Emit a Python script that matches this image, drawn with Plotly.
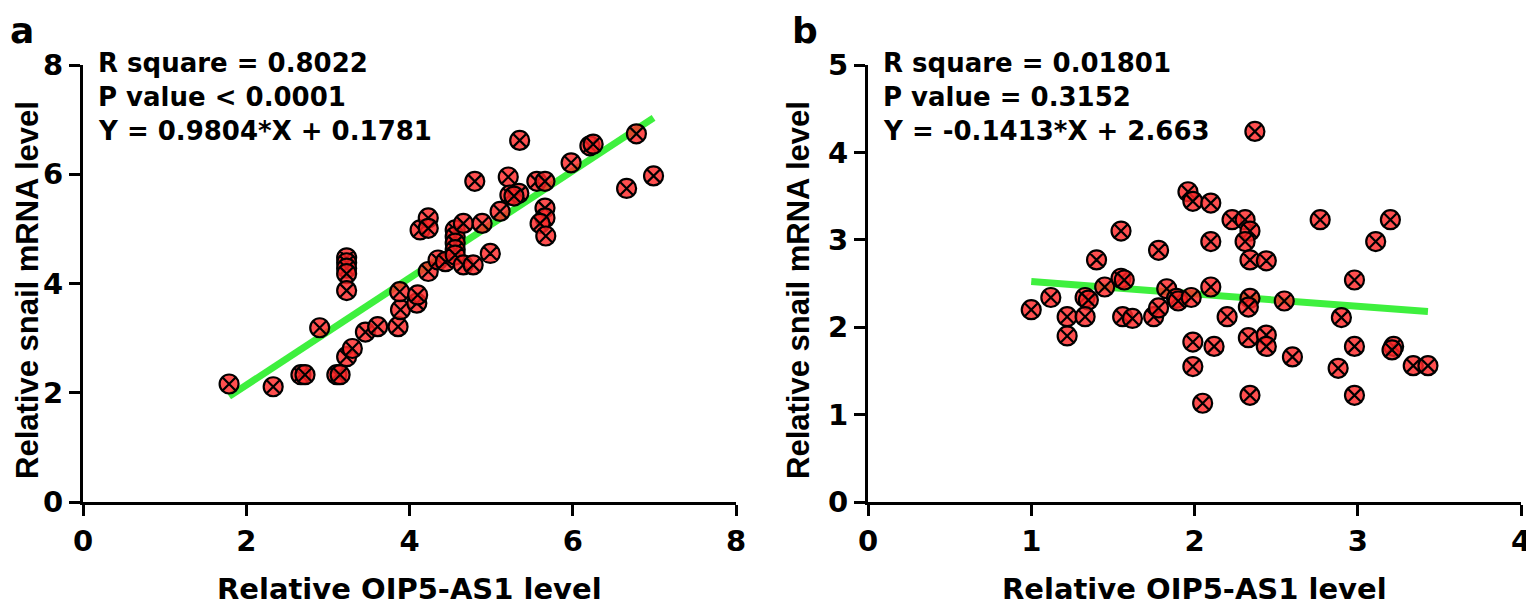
import plotly.graph_objects as go

# Panel a data
a_x = [1.79, 2.33, 2.67, 2.72, 3.11, 3.15, 2.90, 3.23, 3.30, 3.46, 3.61, 3.86, 3.89,
       4.09, 3.23, 3.23, 3.23, 3.23, 3.23, 3.88, 4.10, 4.23, 4.35, 4.44, 4.13, 4.23,
       4.23, 4.56, 4.56, 4.56, 4.56, 4.56, 4.66, 4.66, 4.78, 4.89, 4.99, 5.11, 4.80,
       5.35, 5.21, 5.23, 5.34, 5.28, 5.56, 5.66, 5.66, 5.66, 5.60, 5.67, 5.98, 6.21,
       6.25, 6.78, 6.66, 6.99]
a_y = [2.16, 2.11, 2.33, 2.33, 2.33, 2.33, 3.19, 2.66, 2.81, 3.11, 3.21, 3.21, 3.52,
       3.64, 4.47, 4.38, 4.28, 4.18, 3.87, 3.85, 3.79, 4.22, 4.43, 4.40, 4.98, 5.20,
       5.01, 4.98, 4.86, 4.74, 4.62, 4.52, 5.10, 4.34, 4.34, 5.10, 4.55, 5.32, 5.87,
       6.62, 5.95, 5.62, 5.65, 5.60, 5.87, 5.87, 5.38, 5.20, 5.10, 4.87, 6.21, 6.52,
       6.55, 6.74, 5.74, 5.97]
a_slope, a_icpt = 0.9804, 0.1781
a_text = ["R square = 0.8022", "P value < 0.0001", "Y = 0.9804*X + 0.1781"]

# Panel b data
b_x = [1.00, 1.12, 1.22, 1.22, 1.33, 1.35, 1.33, 1.40, 1.45, 1.55, 1.55, 1.57, 1.56,
       1.62, 1.78, 1.75, 1.78, 1.83, 1.89, 1.90, 1.98, 1.96, 1.99, 2.10, 2.10, 2.10,
       1.99, 2.12, 1.99, 2.05, 2.20, 2.23, 2.31, 2.34, 2.31, 2.34, 2.44, 2.34, 2.33,
       2.55, 2.33, 2.44, 2.44, 2.60, 2.34, 2.37, 2.77, 2.98, 2.90, 2.98, 2.88, 2.98,
       3.11, 3.20, 3.22, 3.21, 3.34, 3.43]
b_y = [2.20, 2.34, 1.90, 2.12, 2.34, 2.31, 2.12, 2.77, 2.46, 3.10, 2.56, 2.54, 2.12,
       2.10, 2.88, 2.12, 2.22, 2.44, 2.33, 2.30, 2.34, 3.55, 3.44, 3.42, 2.98, 2.46,
       1.83, 1.78, 1.55, 1.13, 2.12, 3.23, 3.23, 3.10, 2.98, 2.77, 2.76, 2.33, 2.23,
       2.30, 1.88, 1.91, 1.78, 1.66, 1.22, 4.24, 3.23, 2.54, 2.11, 1.78, 1.53, 1.22,
       2.98, 3.23, 1.78, 1.74, 1.56, 1.56]
b_slope, b_icpt = -0.1413, 2.663
b_text = ["R square = 0.01801", "P value = 0.3152", "Y = -0.1413*X + 2.663"]

x_title = "Relative OIP5-AS1 level"
y_title = "Relative snail mRNA level"

WIDE = "DejaVu Sans, Verdana, sans-serif"
NARROW = "Liberation Sans, Arial, sans-serif"
marker = dict(symbol="circle-x", size=19, color="rgba(255,40,40,0.82)",
              line=dict(color="black", width=2.2))
LINE = dict(color="#3ef03e", width=7)

# page body has an 8px margin: figure is drawn offset by (8, 8)
OFF = 8
W, H = 1534 - OFF, 608 - OFF


def xp(px):
    return (px - OFF) / W


def yp(py):
    return 1 - (py - OFF) / H


fig = go.Figure()

for xs, ys, m, c, xa, ya in [(a_x, a_y, a_slope, a_icpt, "x", "y"),
                             (b_x, b_y, b_slope, b_icpt, "x2", "y2")]:
    x0, x1 = min(xs), max(xs)
    fig.add_trace(go.Scatter(x=[x0, x1], y=[m * x0 + c, m * x1 + c], mode="lines",
                             line=LINE, xaxis=xa, yaxis=ya, showlegend=False,
                             hoverinfo="skip"))
    fig.add_trace(go.Scatter(x=xs, y=ys, mode="markers", marker=marker,
                             xaxis=xa, yaxis=ya, showlegend=False))

ydom = [yp(502), yp(65)]
axis_common = dict(showgrid=False, zeroline=False, showline=True, linecolor="black",
                   linewidth=3, ticks="outside", ticklen=11, tickwidth=3,
                   tickcolor="black", automargin=False,
                   tickfont=dict(family=WIDE, size=29, color="black", weight="bold"))

fig.update_layout(
    width=W, height=H, margin=dict(l=0, r=0, t=0, b=0, autoexpand=False),
    paper_bgcolor="white", plot_bgcolor="white",
    xaxis=dict(domain=[xp(83), xp(736)], range=[0, 8], dtick=2, anchor="y",
               **axis_common),
    yaxis=dict(domain=ydom, range=[0, 8], dtick=2, anchor="x", **axis_common),
    xaxis2=dict(domain=[xp(868), xp(1521)], range=[0, 4], dtick=1, anchor="y2",
                **axis_common),
    yaxis2=dict(domain=ydom, range=[0, 5], dtick=1, anchor="x2", **axis_common),
)

# axis titles
xt_font = dict(family=WIDE, size=29, color="black", weight="bold")
yt_font = dict(family=NARROW, size=31, color="black", weight="bold")
for cx in [(83 + 736) / 2, (868 + 1521) / 2]:
    fig.add_annotation(text=x_title, xref="paper", yref="paper", x=xp(cx),
                       y=yp(589), xanchor="center", yanchor="middle",
                       showarrow=False, font=xt_font)
for cx in [27, 798]:
    fig.add_annotation(text=y_title, xref="paper", yref="paper", x=xp(cx),
                       y=yp(290), xanchor="center", yanchor="middle",
                       textangle=-90, showarrow=False, font=yt_font)

ann_font = dict(family=WIDE, size=26, color="black", weight="bold")
for texts, x0px in [(a_text, 96), (b_text, 881)]:
    for i, t in enumerate(texts):
        fig.add_annotation(text=t, xref="paper", yref="paper",
                           x=xp(x0px), y=yp(63 + 34 * i),
                           xanchor="left", yanchor="middle", showarrow=False,
                           font=ann_font)

for lab, xpx in [("a", 8), ("b", 790)]:
    fig.add_annotation(text=lab, xref="paper", yref="paper", x=xp(xpx),
                       y=1, xanchor="left", yanchor="top",
                       showarrow=False,
                       font=dict(family=WIDE, size=36, color="black", weight="bold"))

fig.write_html("out.html")
